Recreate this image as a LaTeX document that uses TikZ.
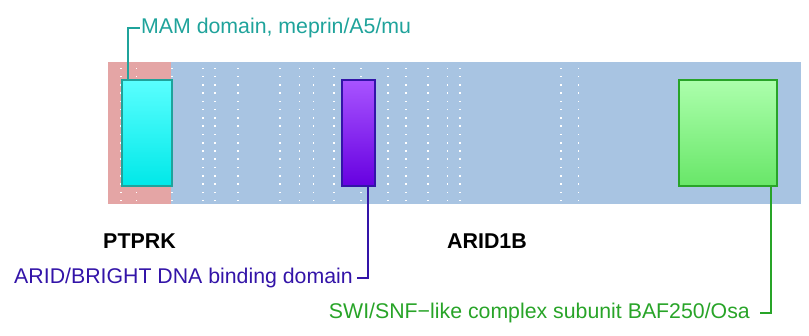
\documentclass[tikz,border=0pt]{standalone}
\usepackage{fontspec}
\setmainfont{Liberation Sans}
\definecolor{bgblue}{HTML}{A8C4E2}
\definecolor{bgpink}{HTML}{E4A5A5}
\definecolor{mamteal}{HTML}{1FA39B}
\definecolor{aridpurple}{HTML}{3314A8}
\definecolor{swigreen}{HTML}{28A428}
\usetikzlibrary{positioning}
\tikzset{
  domainbox/.style={draw, line width=2pt, inner sep=0pt, shading=axis},
  domainlbl/.style={inner sep=0pt, font=\fontsize{21.3}{26}\selectfont},
  genelbl/.style={inner sep=0pt, font=\fontsize{21.4}{26}\selectfont\bfseries},
  domainline/.style={line width=2pt}
}
\begin{document}
\begin{tikzpicture}[x=1pt, y=-1pt]
   \useasboundingbox (0,0) rectangle (809,335);
   % Gene bars
   \fill[bgblue] (108,62) rectangle (800.5,204.3);
   \fill[bgpink] (108,62) rectangle (171,204.3);
   % Dotted grid
   \foreach \cx in {120.7,136.3,171.7,202.7,215,237.7,280,299.3,313.3,334,360.7,387.7,405.7,427.7,447.3,460,561,578.3}
      \foreach \r in {0,...,16}
         \fill[white] (\cx-0.8,68.3+8.27*\r-0.8) rectangle +(1.6,1.6);
   % Domains
   \node[domainbox, draw=mamteal, top color={rgb,255:red,90;green,255;blue,255}, bottom color={rgb,255:red,0;green,232;blue,232},
      minimum width=50pt, minimum height=106pt] (mambox) at (146.7,133.2) {};
   \node[domainbox, draw=aridpurple, top color={rgb,255:red,168;green,84;blue,255}, bottom color={rgb,255:red,102;green,0;blue,224},
      minimum width=32.5pt, minimum height=106pt] (aridbox) at (358.3,133.2) {};
   \node[domainbox, draw=swigreen, top color={rgb,255:red,172;green,255;blue,172}, bottom color={rgb,255:red,104;green,230;blue,104},
      minimum width=98.5pt, minimum height=106pt] (swibox) at (728.2,133.2) {};
   % Gene names
   \node[genelbl, anchor=base] (ptprk) at (139.5,248.3) {PTPRK};
   \node[genelbl, anchor=base] (arid1b) at (487,248.3) {ARID1B};
   % Domain labels
   \node[domainlbl, text=mamteal, anchor=base west] (mamlbl) at (141,33.3) {MAM domain, meprin/A5/mu};
   \node[domainlbl, text=aridpurple, anchor=base east] (aridlbl) at (353,283.3) {ARID/BRIGHT DNA binding domain};
   \node[domainlbl, text=swigreen, anchor=base east] (swilbl) at (750,318.3) {SWI/SNF−like complex subunit BAF250/Osa};
   % Connectors
   \draw[domainline, mamteal] ([xshift=7pt]mambox.north west) |- ([xshift=-1pt]mamlbl.west);
   \draw[domainline, aridpurple] ([xshift=-7.6pt]aridbox.south east) |- ([xshift=4pt]aridlbl.east);
   \draw[domainline, swigreen] ([xshift=-7.6pt]swibox.south east) |- ([xshift=10pt]swilbl.east);
\end{tikzpicture}
\end{document}
